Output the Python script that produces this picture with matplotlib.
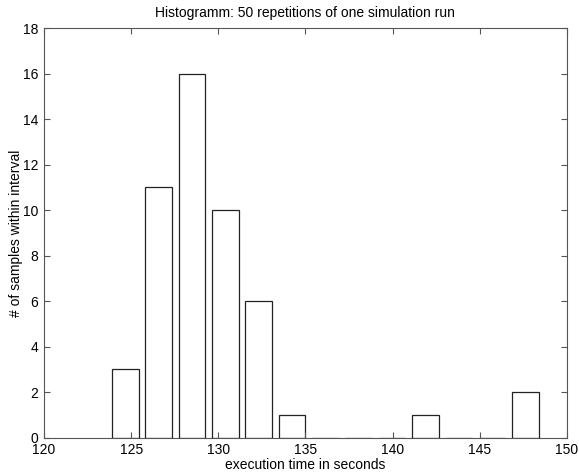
import matplotlib
matplotlib.use("Agg")
import matplotlib.pyplot as plt
import numpy as np

plt.rcParams['font.family'] = ['Liberation Sans', 'DejaVu Sans']

# Bin centers (seconds) and counts per bin
bin_centers = [124.67, 126.58, 128.50, 130.41, 132.32, 134.23, 136.15,
               138.06, 139.97, 141.88, 143.80, 145.71, 147.62]
counts = [3, 11, 16, 10, 6, 1, 0, 0, 0, 1, 0, 0, 2]
bin_width = 1.9125

x_ticks = [120, 125, 130, 135, 140, 145, 150]
y_ticks = [0, 2, 4, 6, 8, 10, 12, 14, 16, 18]

fig = plt.figure(figsize=(5.79, 4.72), dpi=100)
ax = fig.add_axes([0.076, 0.073, 0.903, 0.867])

ax.bar(bin_centers, counts, width=0.8 * bin_width, facecolor='white',
       edgecolor='#222222', linewidth=0.9)

ax.set_xlim(120, 150)
ax.set_ylim(0, 18)
ax.set_xticks(x_ticks)
ax.set_yticks(y_ticks)
ax.tick_params(direction='in', top=True, right=True, labelsize=10,
               length=4, width=0.8, color='#555555', pad=4)
for s in ax.spines.values():
    s.set_color('#555555')
    s.set_linewidth(0.8)

ax.set_title('Histogramm: 50 repetitions of one simulation run', fontsize=10, pad=8)
ax.set_xlabel('execution time in seconds', fontsize=10, labelpad=1)
ax.set_ylabel('# of samples within interval', fontsize=10, labelpad=0)

fig.savefig('out.png', dpi=100)
